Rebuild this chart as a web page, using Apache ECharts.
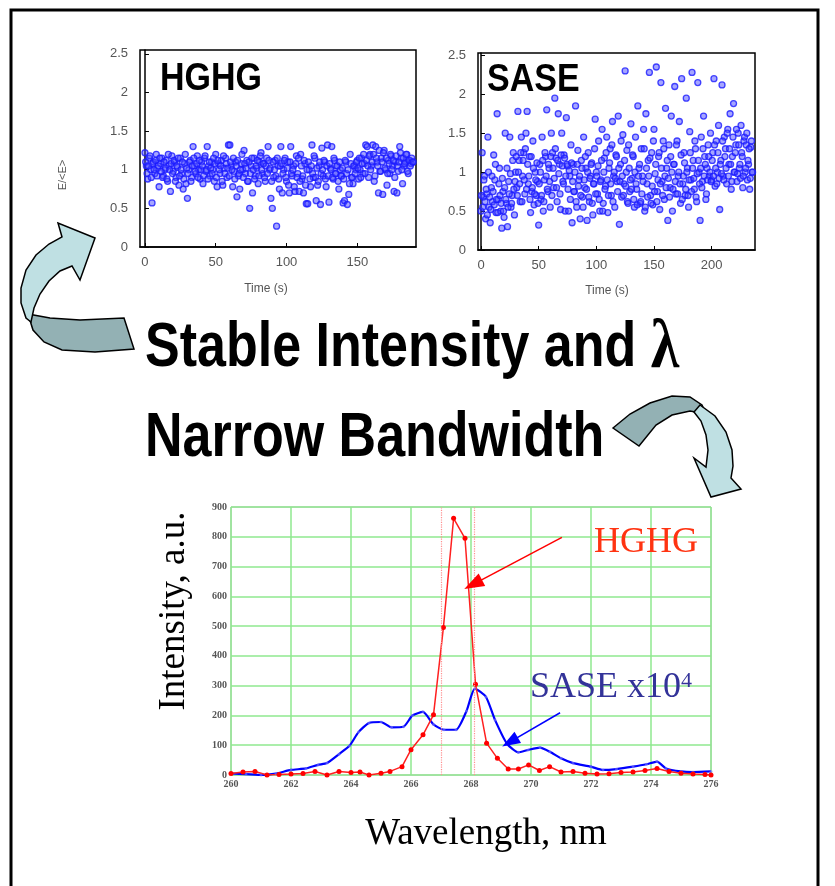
<!DOCTYPE html>
<html>
<head>
<meta charset="utf-8">
<script src="https://cdn.jsdelivr.net/npm/echarts@6/dist/echarts.min.js"></script>
<style>
html, body { margin: 0; padding: 0; background: #fff; }
#main { width: 835px; height: 886px; }
</style>
</head>
<body>
<div id="main"></div>
<script>
// shot-to-shot energy, E/<E>: one value per second, a second set half a second later
var hghgE = [
    1.22, 1.05, 0.88, 1.15, 1.0, 0.57, 1.1, 0.95, 1.2, 1.02,
    0.78, 1.08, 1.15, 0.92, 1.0, 1.12, 0.85, 1.05, 0.72, 1.18,
    0.98, 1.1, 0.9, 1.03, 0.8, 1.15, 0.95, 0.75, 1.08, 0.82,
    0.63, 1.0, 1.12, 0.9, 1.3, 1.05, 0.95, 1.18, 1.0, 0.88,
    1.1, 0.82, 1.15, 0.98, 1.3, 1.05, 0.92, 1.1, 1.0, 0.85,
    1.2, 0.78, 1.08, 0.95, 1.12, 0.8, 1.02, 1.15, 0.9, 1.32,
    1.32, 1.05, 0.78, 0.98, 1.1, 0.65, 0.92, 0.75, 1.08, 1.0,
    1.25, 0.95, 1.12, 0.85, 0.5, 1.05, 0.7, 1.15, 0.92, 1.02,
    0.82, 1.1, 1.22, 0.95, 1.08, 0.85, 1.15, 1.3, 1.0, 0.63,
    0.5, 0.9, 1.12, 0.27, 1.05, 0.75, 1.3, 0.7, 1.0, 1.15,
    0.85, 1.1, 0.7, 1.3, 0.92, 1.05, 0.72, 1.18, 0.95, 0.72,
    1.2, 0.88, 0.7, 1.08, 0.56, 0.56, 1.0, 0.78, 1.32, 0.9,
    1.15, 0.6, 0.8, 1.05, 0.55, 1.28, 0.92, 1.1, 0.78, 1.32,
    0.58, 1.02, 1.3, 0.88, 1.12, 0.95, 1.05, 0.75, 1.0, 0.92,
    0.57, 0.6, 1.1, 0.55, 0.68, 1.2, 0.9, 0.82, 1.05, 1.0,
    1.12, 0.88, 1.0, 1.15, 0.95, 1.08, 1.32, 1.3, 0.9, 1.2,
    1.05, 1.32, 0.85, 1.3, 1.1, 0.7, 0.98, 1.15, 0.68, 1.25,
    1.0, 0.8, 1.12, 0.95, 1.18, 1.05, 0.72, 1.1, 0.7, 0.98,
    1.3, 1.15, 0.82, 1.05, 1.1, 1.2, 0.95, 1.12, 1.08, 1.1
];
var hghgE2 = [
    1.1, 0.95, 1.05, 1.18, 0.9, 1.08, 1.0, 1.12, 0.92, 1.05,
    1.15, 0.98, 0.9, 1.1, 1.02, 0.88, 1.2, 1.0, 1.08, 0.95,
    1.12, 0.85, 1.05, 1.15, 0.92, 1.0, 1.1, 0.88, 1.2, 1.02,
    0.95, 1.1, 0.85, 1.05, 1.15, 0.98, 1.08, 0.9, 1.12, 1.0,
    1.05, 0.92, 1.18, 1.0, 0.88, 1.1, 1.02, 0.95, 1.15, 1.08,
    0.9, 1.12, 1.0, 1.05, 0.85, 1.18, 0.95, 1.08, 1.02, 0.92,
    1.1, 1.0, 1.15, 0.88, 1.05, 1.12, 0.95, 1.0, 1.2, 0.9,
    1.08, 1.02, 0.85, 1.1, 0.95, 1.15, 1.0, 0.88, 1.05, 1.12,
    0.92, 1.18, 1.0, 1.08, 0.9, 1.05, 0.95, 1.12, 1.02, 0.85,
    1.1, 1.0, 0.92, 1.15, 0.88, 1.05, 1.08, 0.95, 1.12, 0.9,
    1.02, 0.8, 1.1, 0.95, 1.0, 0.78, 1.08, 0.9, 1.15, 0.85,
    1.05, 0.92, 1.12, 0.8, 1.0, 1.1, 0.88, 1.05, 0.95, 1.18,
    0.9, 1.02, 0.85, 1.1, 0.95, 1.0, 1.12, 0.88, 1.05, 0.92,
    1.08, 1.0, 0.9, 1.15, 0.95, 1.05, 0.85, 1.1, 0.92, 1.02,
    0.88, 1.12, 0.95, 1.0, 0.82, 1.08, 0.9, 1.05, 0.95, 1.1,
    1.02, 1.15, 0.9, 1.08, 1.2, 0.95, 1.12, 1.05, 1.18, 1.0,
    1.1, 1.2, 0.92, 1.15, 1.05, 1.25, 0.98, 1.1, 1.22, 1.02,
    1.15, 0.95, 1.08, 1.2, 1.0, 1.12, 0.9, 1.18, 1.05, 1.1,
    1.22, 1.0, 1.15, 1.08, 1.2, 0.98, 1.12, 1.05, 1.15, 1.1
];
var saseE = [
    0.5, 1.25, 0.68, 0.95, 0.4, 0.72, 1.45, 0.55, 0.35, 0.8,
    0.62, 1.22, 0.9, 0.48, 1.75, 0.65, 1.05, 0.5, 0.28, 0.75,
    0.42, 1.5, 0.6, 0.3, 0.88, 1.45, 0.55, 0.7, 1.25, 0.45,
    1.0, 0.8, 1.78, 1.15, 0.62, 1.45, 0.95, 1.25, 0.72, 1.5,
    1.78, 0.85, 1.2, 0.48, 0.75, 1.4, 0.58, 1.0, 0.7, 0.88,
    0.32, 1.1, 0.65, 1.45, 0.5, 0.9, 1.2, 1.8, 0.75, 1.05,
    0.55, 1.5, 1.25, 0.8, 1.95, 1.18, 0.62, 1.75, 1.1, 0.52,
    1.5, 0.88, 1.22, 0.5, 1.7, 1.08, 0.5, 0.95, 1.35, 0.35,
    1.1, 0.75, 1.85, 0.55, 1.28, 0.9, 0.4, 1.15, 0.68, 1.45,
    0.8, 1.05, 0.38, 1.25, 0.62, 0.95, 1.12, 0.45, 0.85, 1.68,
    1.0, 0.72, 1.4, 0.5, 0.9, 1.55, 0.6, 1.18, 0.82, 1.45,
    0.48, 1.05, 1.3, 0.7, 1.65, 0.95, 0.55, 1.22, 0.88, 1.72,
    0.33, 1.1, 0.68, 1.48, 0.85, 2.3, 1.0, 0.62, 1.35, 0.75,
    1.62, 0.92, 1.2, 0.55, 1.45, 0.78, 1.85, 1.05, 0.6, 1.3,
    0.95, 1.55, 0.5, 1.75, 0.85, 1.15, 2.28, 0.7, 1.25, 0.58,
    1.55, 0.98, 2.35, 0.75, 1.2, 0.52, 2.15, 0.88, 1.4, 0.65,
    1.82, 1.05, 0.38, 1.35, 0.8, 1.72, 0.5, 1.1, 2.1, 0.72,
    1.4, 0.95, 1.65, 0.6, 2.2, 0.85, 1.25, 0.7, 1.95, 1.05,
    0.55, 1.52, 0.9, 2.28, 1.15, 0.78, 1.3, 0.62, 2.15, 1.0,
    0.38, 1.45, 0.88, 1.72, 1.2, 0.65, 1.05, 1.35, 0.95, 1.5,
    0.9, 1.25, 2.2, 0.82, 1.4, 1.0, 1.6, 0.52, 1.15, 2.12,
    0.95, 1.45, 1.3, 0.85, 1.55, 1.1, 1.75, 0.78, 1.2, 1.88,
    1.0, 1.35, 0.88, 1.5, 1.05, 0.92, 1.25, 0.8, 1.4, 1.0,
    1.35, 0.9, 1.1, 0.78, 1.32, 1.0
];
var saseE2 = [
    0.7, 0.55, 0.9, 0.62, 0.78, 0.45, 1.0, 0.68, 0.52, 0.95,
    0.75, 0.58, 1.1, 0.65, 0.48, 0.85, 0.7, 0.6, 0.92, 0.5,
    0.8, 0.65, 1.05, 0.55, 0.72, 0.98, 0.6, 1.15, 0.78, 0.88,
    1.2, 0.7, 1.0, 0.85, 1.25, 0.62, 1.15, 0.9, 1.3, 0.78,
    1.1, 0.95, 0.65, 1.2, 0.8, 1.05, 0.72, 0.9, 1.12, 0.6,
    0.85, 1.0, 0.7, 1.15, 0.62, 1.25, 0.95, 0.78, 1.1, 0.88,
    1.2, 0.7, 1.05, 0.92, 1.3, 0.8, 1.15, 0.98, 0.72, 1.22,
    1.08, 0.85, 1.18, 0.95, 1.1, 0.78, 1.02, 0.65, 1.12, 0.88,
    0.75, 1.0, 0.62, 1.1, 0.82, 0.95, 0.7, 1.05, 0.55, 0.9,
    1.2, 0.78, 1.0, 0.68, 0.92, 1.1, 0.6, 0.85, 1.3, 0.72,
    0.95, 1.08, 0.65, 0.88, 1.15, 0.5, 1.0, 0.78, 1.25, 0.9,
    0.7, 1.12, 0.85, 1.35, 0.62, 1.0, 0.92, 1.2, 0.75, 1.05,
    0.88, 1.4, 0.95, 0.7, 1.15, 0.82, 1.28, 0.6, 1.05, 0.9,
    0.78, 1.22, 0.65, 1.0, 0.85, 0.58, 0.95, 1.1, 0.62, 0.72,
    0.88, 1.3, 0.55, 1.05, 0.68, 0.95, 1.18, 0.6, 0.82, 1.4,
    0.75, 1.1, 0.62, 0.9, 1.25, 0.85, 1.05, 0.7, 1.3, 0.95,
    0.8, 1.15, 0.92, 0.68, 1.2, 1.0, 0.78, 1.1, 0.88, 1.35,
    0.72, 1.0, 0.85, 1.22, 0.65, 0.95, 1.12, 0.78, 1.0, 0.7,
    0.9, 1.25, 0.75, 1.05, 0.92, 1.4, 0.68, 0.98, 1.15, 0.85,
    1.05, 0.8, 1.3, 0.95, 1.1, 0.72, 0.9, 1.2, 1.0, 0.88,
    1.15, 0.95, 1.35, 1.05, 0.85, 1.25, 0.92, 1.1, 0.98, 1.4,
    0.9, 1.2, 1.05, 1.5, 0.95, 1.3, 1.1, 0.88, 1.45, 1.0,
    1.25, 1.55, 0.98, 1.35, 1.1, 1.6, 1.2, 0.95, 1.45, 1.05,
    1.5, 1.15, 1.3, 0.92, 1.4, 1.0
];

// spectra
var hghgWl = [260, 260.4, 260.8, 261.2, 261.6, 262, 262.4, 262.8, 263.2, 263.6, 264, 264.3, 264.6, 265, 265.3, 265.7,
    266.0, 266.4, 266.75, 267.08, 267.42, 267.8, 268.15, 268.52, 268.88, 269.24, 269.58, 269.92, 270.28, 270.62,
    271.0, 271.4, 271.8, 272.2, 272.6, 273.0, 273.4, 273.8, 274.2, 274.6, 275.0, 275.4, 275.8, 276];
var hghgInt = [5, 10, 12, 0, 2, 3, 5, 12, 0, 12, 8, 10, 0, 6, 12, 28,
    85, 135, 202, 495, 862, 795, 305, 107, 56, 20, 20, 34, 15, 28,
    10, 12, 6, 3, 4, 8, 10, 15, 22, 12, 6, 3, 2, 0];
var saseWl = [260, 260.5, 261, 261.5, 262, 262.5, 262.9, 263.2, 263.6, 263.95, 264.25, 264.6, 265.0, 265.35, 265.75,
    266.05, 266.4, 266.75, 267.1, 267.5, 267.85, 268.13, 268.5, 268.8, 269.2, 269.58, 269.9, 270.3, 270.63,
    271.0, 271.4, 272.0, 272.4, 272.85, 273.4, 273.85, 274.2, 274.5, 275.0, 275.4, 276];
var saseInt = [5, 3, 0, 5, 17, 22, 34, 40, 70, 98, 144, 175, 178, 160, 162,
    200, 212, 170, 152, 152, 215, 290, 262, 185, 105, 76, 84, 92, 78,
    56, 40, 28, 17, 20, 28, 36, 45, 22, 12, 10, 12];

var timeTicksH = [0, 50, 100, 150];
var timeTicksS = [0, 50, 100, 150, 200];
var ratioTicks = [0, 0.5, 1, 1.5, 2, 2.5];
var bandEdges = [267.0, 268.1];

function pairs(xs, ys) {
    return ys.map(function (v, i) { return [xs[i], v]; });
}
function perSecond(ys, offset) {
    return ys.map(function (v, i) { return [i + offset, v]; });
}

var myChart = echarts.init(document.getElementById('main'));

var sans = 'Liberation Sans, Arial, sans-serif';
var serif = 'Liberation Serif, Times New Roman, serif';

var dotStyle = {
    color: 'rgba(70,70,255,0.6)',
    borderColor: '#1a1aff',
    borderWidth: 1.3
};

function scatterX(idx, min, max, ticks) {
    return {
        gridIndex: idx, type: 'value', min: min, max: max,
        axisLine: { lineStyle: { color: '#000', width: 1.5 } },
        axisTick: { inside: true, length: 4, customValues: ticks, lineStyle: { color: '#000' } },
        axisLabel: { customValues: ticks, color: '#555', fontSize: 13, fontFamily: sans, margin: 9 },
        splitLine: { show: false }
    };
}
function scatterY(idx, max) {
    return {
        gridIndex: idx, type: 'value', min: 0, max: max,
        axisLine: { lineStyle: { color: '#000', width: 1.5 } },
        axisTick: { inside: true, length: 4, customValues: ratioTicks, lineStyle: { color: '#000' } },
        axisLabel: { customValues: ratioTicks, color: '#555', fontSize: 13, fontFamily: sans, margin: 12 },
        splitLine: { show: false }
    };
}

var option = {
    backgroundColor: '#fff',
    animation: false,
    grid: [
        { left: 140, top: 50, width: 276, height: 197, show: true, borderColor: '#000', borderWidth: 1.5 },
        { left: 478, top: 53, width: 277, height: 197, show: true, borderColor: '#000', borderWidth: 1.5 },
        { left: 231, top: 507, width: 480, height: 268, show: true, borderColor: '#aaa', borderWidth: 1 }
    ],
    xAxis: [
        scatterX(0, -3.5, 191.5, timeTicksH),
        scatterX(1, -2.6, 237.6, timeTicksS),
        {
            gridIndex: 2, type: 'value', min: 260, max: 276, interval: 2,
            axisLine: { show: false },
            axisTick: { show: false },
            axisLabel: { color: '#555', fontSize: 10, fontWeight: 'bold', fontFamily: serif, margin: 4 },
            splitLine: { lineStyle: { color: '#8fe88f', width: 1.5 } }
        }
    ],
    yAxis: [
        scatterY(0, 2.55),
        scatterY(1, 2.53),
        {
            gridIndex: 2, type: 'value', min: 0, max: 900, interval: 100,
            axisLine: { show: false },
            axisTick: { show: false },
            axisLabel: { color: '#555', fontSize: 10, fontWeight: 'bold', fontFamily: serif, margin: 4 },
            splitLine: { lineStyle: { color: '#8fe88f', width: 1.5 } }
        }
    ],
    series: [
        {
            name: 'HGHG shots', type: 'scatter', xAxisIndex: 0, yAxisIndex: 0,
            symbolSize: 6, itemStyle: dotStyle, data: perSecond(hghgE, 0)
        },
        {
            name: 'HGHG shots b', type: 'scatter', xAxisIndex: 0, yAxisIndex: 0,
            symbolSize: 6, itemStyle: dotStyle, data: perSecond(hghgE2, 0.5)
        },
        {
            name: 'SASE shots', type: 'scatter', xAxisIndex: 1, yAxisIndex: 1,
            symbolSize: 6, itemStyle: dotStyle, data: perSecond(saseE, 0)
        },
        {
            name: 'SASE shots b', type: 'scatter', xAxisIndex: 1, yAxisIndex: 1,
            symbolSize: 6, itemStyle: dotStyle, data: perSecond(saseE2, 0.5)
        },
        {
            name: 'SASE x10^4', type: 'line', xAxisIndex: 2, yAxisIndex: 2,
            smooth: 0.2, symbol: 'circle', symbolSize: 3,
            itemStyle: { color: 'rgba(120,120,255,0.6)' },
            lineStyle: { color: '#0000ff', width: 2.2 },
            data: pairs(saseWl, saseInt),
            markLine: {
                silent: true, symbol: ['none', 'triangle'], symbolSize: [13, 18],
                label: { show: false },
                lineStyle: { color: '#0000ff', width: 1.5, type: 'solid' },
                data: [[{ coord: [270.97, 209] }, { coord: [269.3, 111] }]]
            }
        },
        {
            name: 'HGHG', type: 'line', xAxisIndex: 2, yAxisIndex: 2,
            symbol: 'circle', symbolSize: 5,
            itemStyle: { color: '#ff0000' },
            lineStyle: { color: '#ff2020', width: 1.5 },
            data: pairs(hghgWl, hghgInt),
            markLine: {
                silent: true, symbol: 'none',
                label: { show: false },
                data: [
                    { xAxis: bandEdges[0], lineStyle: { color: '#ff9090', type: 'dotted', width: 1.2 } },
                    { xAxis: bandEdges[1], lineStyle: { color: '#ff9090', type: 'dotted', width: 1.2 } },
                    [
                        { coord: [271.03, 798], symbol: 'none', lineStyle: { color: '#ff0000', width: 1.5, type: 'solid' } },
                        { coord: [268.07, 640], symbol: 'triangle', symbolSize: [14, 20] }
                    ]
                ]
            }
        }
    ],
    graphic: [
        { type: 'rect', z: 100, shape: { x: 11, y: 10, width: 807, height: 900 },
          style: { fill: 'none', stroke: '#000', lineWidth: 3 } },
        { type: 'rect', z: 100, shape: { x: 540, y: 296, width: 140, height: 10 }, style: { fill: '#fff' } },

        { type: 'text', z: 100, x: 160, y: 79, scaleY: 1.15,
          style: { text: 'HGHG', font: 'bold 34px ' + sans, fill: '#000', verticalAlign: 'middle' } },
        { type: 'text', z: 100, x: 487, y: 80, scaleY: 1.15,
          style: { text: 'SASE', font: 'bold 34px ' + sans, fill: '#000', verticalAlign: 'middle' } },
        { type: 'text', z: 100, x: 63, y: 175, rotation: Math.PI / 2,
          style: { text: 'E/<E>', font: '11px ' + sans, fill: '#555', align: 'center', verticalAlign: 'middle' } },
        { type: 'text', z: 100, x: 266, y: 289,
          style: { text: 'Time (s)', font: '12px ' + sans, fill: '#555', align: 'center', verticalAlign: 'middle' } },
        { type: 'text', z: 100, x: 607, y: 291,
          style: { text: 'Time (s)', font: '12px ' + sans, fill: '#555', align: 'center', verticalAlign: 'middle' } },

        { type: 'text', z: 100, x: 145, y: 349, scaleY: 1.2,
          style: {
              text: '{a|Stable Intensity and }{b|λ}', verticalAlign: 'middle',
              rich: {
                  a: { font: 'bold 52px ' + sans, fill: '#000' },
                  b: { font: 'bold 58px ' + serif, fill: '#000' }
              }
          } },
        { type: 'text', z: 100, x: 145, y: 439, scaleY: 1.2,
          style: { text: 'Narrow Bandwidth', font: 'bold 52px ' + sans, fill: '#000', verticalAlign: 'middle' } },

        { type: 'text', z: 100, x: 174, y: 611, rotation: Math.PI / 2,
          style: { text: 'Intensity, a.u.', font: '37px ' + serif, fill: '#000', align: 'center', verticalAlign: 'middle' } },
        { type: 'text', z: 100, x: 486, y: 834,
          style: { text: 'Wavelength, nm', font: '37px ' + serif, fill: '#000', align: 'center', verticalAlign: 'middle' } },
        { type: 'text', z: 100, x: 646, y: 543,
          style: { text: 'HGHG', font: '36px ' + serif, fill: '#ff3311', align: 'center', verticalAlign: 'middle' } },
        { type: 'text', z: 100, x: 530, y: 688,
          style: {
              text: '{a|SASE x10}{b|4}', verticalAlign: 'middle',
              rich: {
                  a: { font: '36px ' + serif, fill: '#333399' },
                  b: { font: '22px ' + serif, fill: '#333399', verticalAlign: 'top' }
              }
          } },

        // curved block arrows
        { type: 'polygon', z: 101,
          shape: { points: [[124, 318], [134, 349], [95, 352], [62, 350], [44, 342], [33, 330], [28, 314], [50, 318], [80, 320]] },
          style: { fill: '#93b1b4', stroke: '#000', lineWidth: 1.5 } },
        { type: 'polygon', z: 102,
          shape: { points: [[95, 238], [80, 280], [72, 266], [60, 271], [49, 281], [40, 294], [34, 308], [31, 322],
                            [26, 318], [21, 303], [21, 288], [26, 270], [36, 255], [49, 244], [62, 237], [58, 223]] },
          style: { fill: '#bfe0e3', stroke: '#000', lineWidth: 1.5 } },
        { type: 'polygon', z: 102,
          shape: { points: [[700, 405], [715, 416], [726, 432], [732, 450], [733, 466], [731, 478], [741, 489],
                            [711, 497], [694, 458], [706, 467], [708, 450], [706, 435], [701, 421], [694, 412]] },
          style: { fill: '#bfe0e3', stroke: '#000', lineWidth: 1.5 } },
        { type: 'polygon', z: 101,
          shape: { points: [[613, 428], [630, 414], [650, 403], [672, 396], [690, 397], [702, 405], [706, 414],
                            [690, 411], [672, 415], [656, 425], [639, 446]] },
          style: { fill: '#93b1b4', stroke: '#000', lineWidth: 1.5 } }
    ]
};

myChart.setOption(option);
</script>
</body>
</html>
